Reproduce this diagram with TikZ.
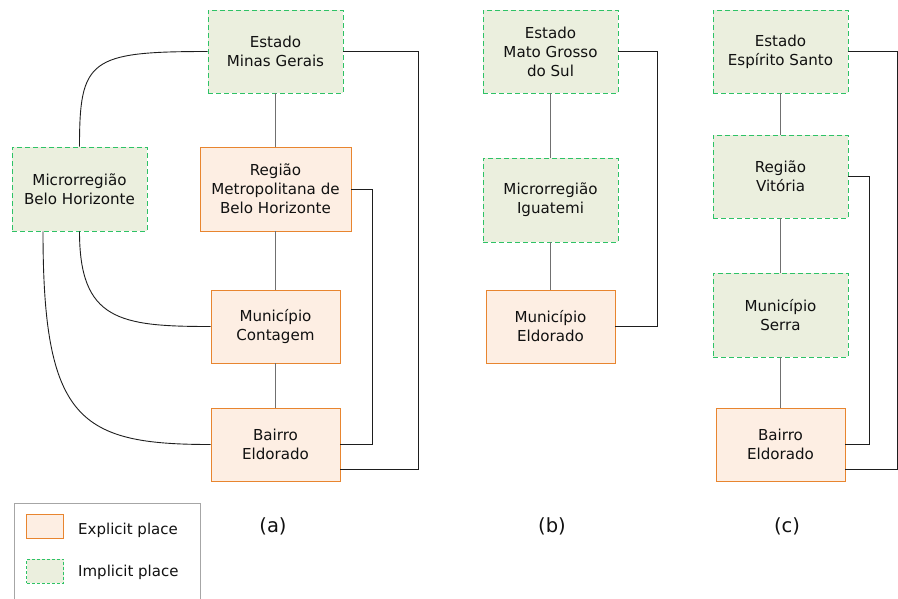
\documentclass[tikz,border=0pt]{standalone}
\usepackage{fontspec}
\setmainfont{DejaVu Sans}
\definecolor{gfill}{HTML}{EBEFDE}
\definecolor{gline}{HTML}{2EC266}
\definecolor{ofill}{HTML}{FDEEE3}
\definecolor{oline}{HTML}{E8852F}
\definecolor{vline}{HTML}{707070}
\definecolor{cline}{HTML}{1E1E1E}
\definecolor{txt}{HTML}{111111}
\tikzset{
  place/.style={inner sep=0pt, align=center, text=txt, line width=0.9pt,
    font=\fontsize{15.1pt}{19pt}\selectfont},
  implicit/.style={place, fill=gfill, draw=gline, dash pattern=on 5pt off 3pt},
  explicit/.style={place, fill=ofill, draw=oline},
  vlink/.style={draw=vline, line width=1.1pt},
  link/.style={draw=cline, line width=0.9pt},
  sublabel/.style={font=\fontsize{19.5pt}{23pt}\selectfont, text=txt},
  legtext/.style={font=\fontsize{15pt}{18pt}\selectfont, text=txt, anchor=west, inner sep=0pt},
}
\begin{document}
\begin{tikzpicture}[x=1pt,y=-1pt]
\useasboundingbox (0,0) rectangle (898,598);
% (a)
\node[implicit, minimum width=135pt, minimum height=83pt] (mg) at (275.5,51.5) {Estado\\Minas Gerais};
\node[implicit, minimum width=135pt, minimum height=84pt] (micro) at (79.5,189) {Microrregião\\Belo Horizonte};
\node[explicit, minimum width=151pt, minimum height=84pt] (rm) at (275.5,189) {Região\\Metropolitana de\\Belo Horizonte};
\node[explicit, minimum width=129pt, minimum height=73pt] (cont) at (275.5,326.5) {Município\\Contagem};
\node[explicit, minimum width=129pt, minimum height=73pt] (bairA) at (275.5,444.5) {Bairro\\Eldorado};
\draw[vlink] (mg) -- (rm);
\draw[vlink] (rm) -- (cont);
\draw[vlink] (cont) -- (bairA);
\draw[link] (mg.west) .. controls +(-118,0) and +(0,-87) .. (micro.north);
\draw[link] (micro.south) .. controls +(0,89) and +(-91,0) .. (cont.west);
\draw[link] ([xshift=-36.5pt]micro.south) .. controls +(0,189) and +(-131,0) .. (bairA.west);
\draw[link] (rm.east) -- ++(21,0) |- (bairA.east);
\draw[link] (mg.east) -- ++(75,0) |- ([yshift=-24.5pt]bairA.east);
\node[sublabel] (la) at (273,526) {(a)};
% (b)
\node[implicit, minimum width=135pt, minimum height=83pt] (ms) at (550.5,51.5) {Estado\\Mato Grosso\\do Sul};
\node[implicit, minimum width=135pt, minimum height=84pt] (igu) at (550.5,200) {Microrregião\\Iguatemi};
\node[explicit, minimum width=129pt, minimum height=73pt] (munB) at (550.5,326.5) {Município\\Eldorado};
\draw[vlink] (ms) -- (igu);
\draw[vlink] (igu) -- (munB);
\draw[link] (ms.east) -- ++(39,0) |- (munB.east);
\node[sublabel] (lb) at (552,526) {(b)};
% (c)
\node[implicit, minimum width=135pt, minimum height=83pt] (es) at (780.5,51.5) {Estado\\Espírito Santo};
\node[implicit, minimum width=135pt, minimum height=83pt] (vit) at (780.5,176.5) {Região\\Vitória};
\node[implicit, minimum width=135pt, minimum height=84pt] (serra) at (780.5,315) {Município\\Serra};
\node[explicit, minimum width=129pt, minimum height=73pt] (bairC) at (780.5,444.5) {Bairro\\Eldorado};
\draw[vlink] (es) -- (vit);
\draw[vlink] (vit) -- (serra);
\draw[vlink] (serra) -- (bairC);
\draw[link] (vit.east) -- ++(21,0) |- (bairC.east);
\draw[link] (es.east) -- ++(49,0) |- ([yshift=-24.5pt]bairC.east);
\node[sublabel] (lc) at (787,526) {(c)};
% legend
\draw[draw=black!35, line width=0.9pt] (14,600) -- (14,503) -- (200,503) -- (200,600);
\node[fill=ofill, draw=oline, line width=0.9pt, minimum width=37pt, minimum height=24pt, inner sep=0pt] (sw1) at (44.5,526) {};
\node[legtext] (lt1) at (78,530) {Explicit place};
\node[fill=gfill, draw=gline, line width=0.8pt, dash pattern=on 3pt off 2pt, minimum width=37pt, minimum height=24pt, inner sep=0pt] (sw2) at (45,571) {};
\node[legtext] (lt2) at (78,572) {Implicit place};
\end{tikzpicture}
\end{document}
